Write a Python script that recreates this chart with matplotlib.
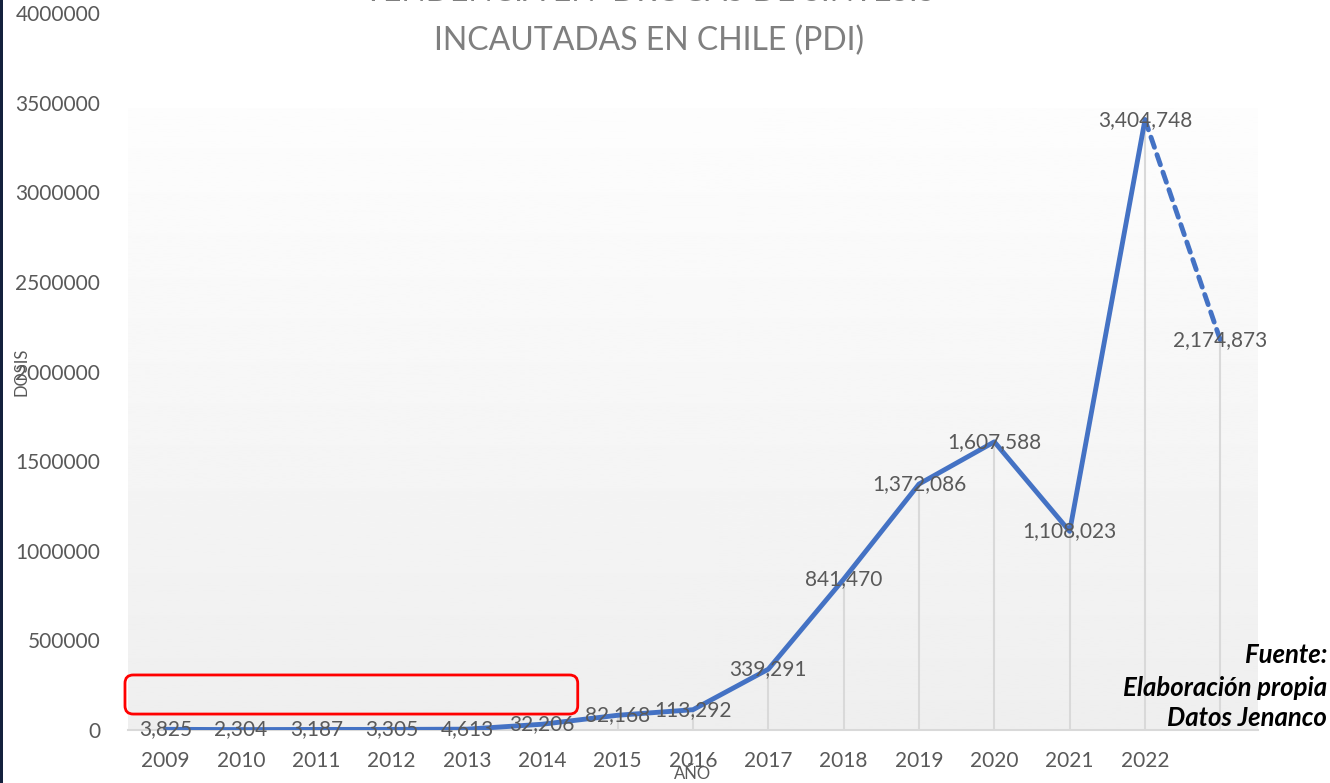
import numpy as np
import matplotlib.pyplot as plt
from matplotlib.patches import FancyBboxPatch, Rectangle

plt.rcParams['font.family'] = ['Lato', 'DejaVu Sans']

# Datos
anios = ['2009', '2010', '2011', '2012', '2013', '2014', '2015', '2016',
         '2017', '2018', '2019', '2020', '2021', '2022', '']
dosis = [3825, 2304, 3187, 3305, 4613, 32206, 82168, 113292,
         339291, 841470, 1372086, 1607588, 1108023, 3404748, 2174873]

W, H = 1330, 783
fig = plt.figure(figsize=(W / 100, H / 100), dpi=100)
ax = fig.add_axes([128 / W, (H - 730) / H, (1258 - 128) / W, (730 - 13) / H])
ax.set_facecolor('none')

x = np.arange(len(dosis))
azul = '#4472C4'
gris_txt = '#595959'

# fondo degradado (blanco arriba, gris abajo)
grad = np.linspace(0.992, 0.935, 256).reshape(-1, 1)
ax.imshow(grad, cmap='gray', vmin=0, vmax=1, aspect='auto',
          extent=[0, 1, 0, (730 - 108) / (730 - 13)],
          transform=ax.transAxes, zorder=0)

# líneas de proyección
ax.vlines(x, 0, dosis, color='#d9d9d9', linewidth=1.5, zorder=1)

# línea principal y tramo proyectado
ax.plot(x[:-1], dosis[:-1], color=azul, linewidth=3.5,
        solid_capstyle='round', solid_joinstyle='round', zorder=3)
ax.plot(x[-2:], dosis[-2:], color=azul, linewidth=3.5,
        linestyle=(0, (2.2, 1.6)), dash_capstyle='round', zorder=3)

# etiquetas de datos
for xi, v in zip(x, dosis):
    ax.text(xi, v, f'{v:,}', ha='center', va='center', fontsize=15,
            color=gris_txt, zorder=4)

# recuadro rojo sobre los primeros años
caja = FancyBboxPatch((x[0] - 0.54, 89000), (x[5] + 0.47) - (x[0] - 0.54), 218000,
                      boxstyle='round,pad=0,rounding_size=0.11',
                      mutation_aspect=420000, facecolor='none',
                      edgecolor='#ff0000', linewidth=2, clip_on=False, zorder=5)
ax.add_patch(caja)

ax.set_xlim(-0.5, len(dosis) - 0.5)
ax.set_ylim(0, 4000000)
ax.set_xticks(x)
ax.set_xticklabels(anios)
ax.set_yticks(np.arange(0, 4000001, 500000))
ax.set_yticklabels([str(v) for v in range(0, 4000001, 500000)])
ax.tick_params(axis='both', length=0, labelsize=15, labelcolor=gris_txt)
ax.tick_params(axis='y', pad=20)
ax.tick_params(axis='x', pad=15)

for lado in ['top', 'right', 'left']:
    ax.spines[lado].set_visible(False)
ax.spines['bottom'].set_color('#d9d9d9')
ax.spines['bottom'].set_linewidth(1.5)

# títulos de ejes
fig.text(21 / W, 1 - 372 / H, 'DOSIS', rotation=90, ha='center', va='center',
         fontsize=12, color=gris_txt)
fig.text(693 / W, 1 - 774 / H, 'AÑO', ha='center', va='center',
         fontsize=12, color=gris_txt)

# título (la primera línea queda cortada arriba)
fig.text(650 / W, 1 - 7 / H, 'TENDENCIA EN  DROGAS DE SINTESIS', ha='center',
         va='bottom', fontsize=23, color='#7f7f7f')
fig.text(649 / W, 1 - 50 / H, 'INCAUTADAS EN CHILE (PDI)', ha='center',
         va='baseline', fontsize=23, color='#7f7f7f')

# fuente
for texto, yy in [('Fuente:', 655), ('Elaboración propia', 688), ('Datos Jenanco', 718)]:
    fig.text(1327 / W, 1 - yy / H, texto, ha='right', va='center', fontsize=18.5,
             fontweight='bold', fontstyle='italic', color='black')

# franja azul oscura en el borde izquierdo
fig.patches.append(Rectangle((0, 0), 3 / W, 1, transform=fig.transFigure,
                             facecolor='#14213d', edgecolor='none'))

fig.savefig('out.png', dpi=100)
